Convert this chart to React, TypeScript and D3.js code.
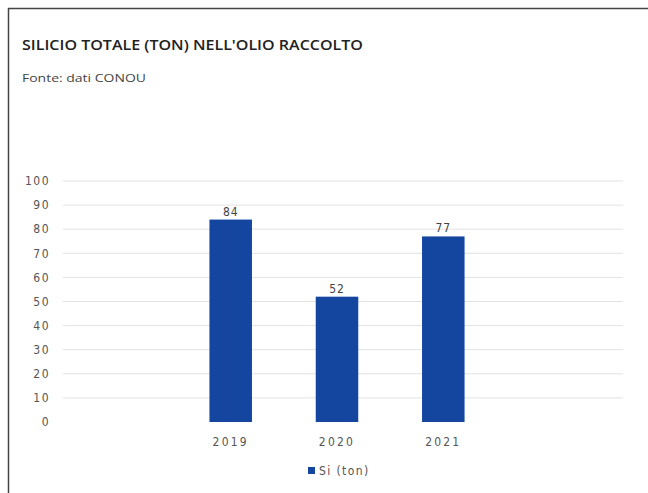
import React from "react";
import * as d3 from "d3";

const categories = ["2019", "2020", "2021"];
const values = [84, 52, 77];
const yTicks = [0, 10, 20, 30, 40, 50, 60, 70, 80, 90, 100];
const seriesName = "Si (ton)";
const title = "SILICIO TOTALE (TON) NELL'OLIO RACCOLTO";
const subtitle = "Fonte: dati CONOU";

const W = 648;
const H = 493;
const BAR = "#1446a0";

export default function App() {
  const x = d3.scaleBand<string>().domain(categories).range([50, 624]).paddingInner(0.6).paddingOuter(1.5);
  const y = d3.scaleLinear().domain([0, 100]).range([422, 181]);
  const font = "'Open Sans', Lato, sans-serif";
  const tickFont = "'Liberation Sans Narrow', 'DejaVu Sans Condensed', Roboto, sans-serif";
  return (
    <svg width={W} height={H} style={{ position: "absolute", left: 0, top: 0, background: "#fff" }}>
      <rect x={0} y={0} width={W} height={H} fill="#fff" />
      <line x1={8} y1={8.5} x2={W} y2={8.5} stroke="#444" strokeWidth={1.5} />
      <line x1={8.5} y1={8} x2={8.5} y2={H} stroke="#444" strokeWidth={1.5} />
      <text x={22} y={50} fontFamily={font} fontWeight={600} fontSize={14} fill="#222" textLength={341} lengthAdjust="spacingAndGlyphs">
        {title}
      </text>
      <text x={22} y={82} fontFamily={font} fontSize={11.5} fill="#444" textLength={124} lengthAdjust="spacingAndGlyphs">
        {subtitle}
      </text>
      {yTicks.map((t) => (
        <g key={t}>
          {t > 0 && (
            <line x1={63} x2={623} y1={y(t)} y2={y(t)} stroke="#e2e2e2" strokeWidth={1} />
          )}
          <text x={50} y={y(t)} dy="0.35em" textAnchor="end" fontFamily={tickFont} fontSize={12} letterSpacing={1.5} fill="#555">
            {t}
          </text>
        </g>
      ))}
      {categories.map((c, i) => (
        <g key={c}>
          <rect x={x(c)!} y={y(values[i])} width={x.bandwidth()} height={y(0) - y(values[i])} fill={BAR} />
          <text x={x(c)! + x.bandwidth() / 2} y={y(values[i]) - 4} textAnchor="middle" fontFamily={tickFont} fontSize={12} letterSpacing={0.8} fill="#444">
            {values[i]}
          </text>
          <text x={x(c)! + x.bandwidth() / 2} y={442} dy="0.35em" textAnchor="middle" fontFamily={tickFont} fontSize={12} letterSpacing={2.2} fill="#555">
            {c}
          </text>
        </g>
      ))}
      <rect x={308} y={467} width={7} height={7} fill={BAR} />
      <text x={319} y={471} dy="0.35em" fontFamily={tickFont} fontSize={12} letterSpacing={1.4} fill="#555">
        {seriesName}
      </text>
    </svg>
  );
}
